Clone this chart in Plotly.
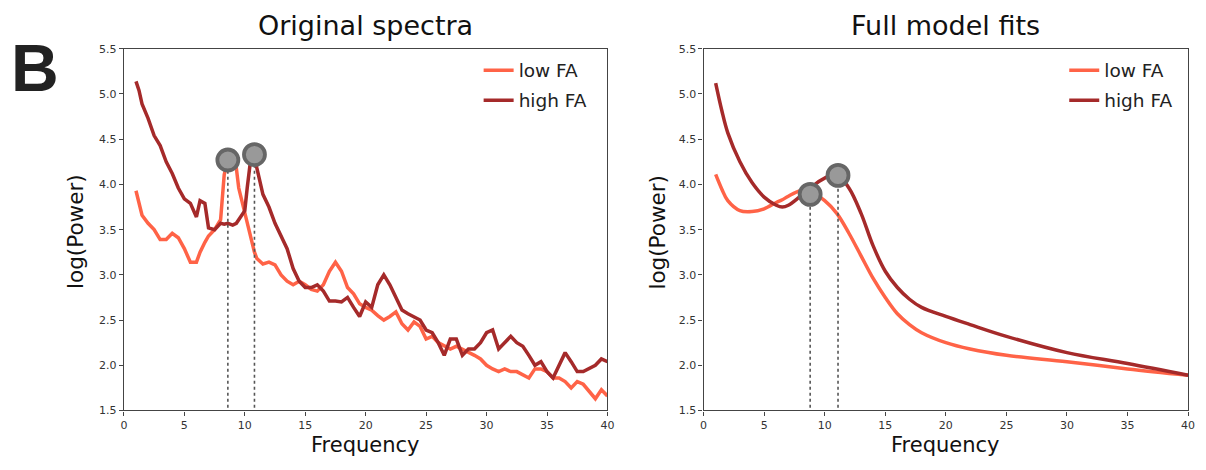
import plotly.graph_objects as go

# ---------------- data ----------------
freq_spec = [1, 1.25, 1.5, 2, 2.5, 3, 3.5, 4, 4.5, 5, 5.5, 6, 6.3, 6.7, 7, 7.5, 8, 8.3, 8.6,
             9, 9.3, 9.5, 10, 10.2, 10.5, 10.8, 11, 11.5, 12, 12.5, 13, 13.5, 14, 14.5, 15,
             15.5, 16, 16.5, 17, 17.5, 18, 18.5, 19, 19.5, 20, 20.5, 21, 21.5, 22, 22.5, 23,
             23.5, 24, 24.5, 25, 25.5, 26, 26.5, 27, 27.5, 28, 28.5, 29, 29.5, 30, 30.5, 31,
             31.5, 32, 32.5, 33, 33.5, 34, 34.5, 35, 35.5, 36, 36.5, 37, 37.5, 38, 38.5, 39,
             39.5, 40]

high_spec = [5.14, 5.04, 4.89, 4.73, 4.54, 4.43, 4.25, 4.12, 3.96, 3.84, 3.79, 3.64, 3.82, 3.79,
             3.52, 3.50, 3.57, 3.56, 3.57, 3.55, 3.57, 3.61, 3.71, 3.96, 4.29, 4.34, 4.18, 3.89,
             3.75, 3.57, 3.43, 3.29, 3.07, 2.93, 2.86, 2.86, 2.89, 2.82, 2.71, 2.71, 2.70, 2.75,
             2.64, 2.54, 2.70, 2.64, 2.89, 3.00, 2.89, 2.75, 2.61, 2.57, 2.54, 2.50, 2.39, 2.36,
             2.25, 2.11, 2.29, 2.29, 2.11, 2.18, 2.18, 2.25, 2.36, 2.39, 2.18, 2.25, 2.32, 2.25,
             2.21, 2.11, 2.00, 2.04, 1.93, 1.86, 2.00, 2.14, 2.04, 1.93, 1.93, 1.96, 2.00, 2.07,
             2.04]

low_spec = [3.93, 3.79, 3.66, 3.57, 3.50, 3.39, 3.39, 3.46, 3.41, 3.29, 3.14, 3.14, 3.25, 3.36,
            3.43, 3.50, 3.61, 4.11, 4.26, 4.20, 4.18, 3.96, 3.68, 3.58, 3.39, 3.25, 3.18, 3.12,
            3.14, 3.11, 3.00, 2.93, 2.89, 2.93, 2.89, 2.84, 2.82, 2.89, 3.04, 3.14, 3.04, 2.86,
            2.79, 2.68, 2.64, 2.61, 2.55, 2.50, 2.54, 2.59, 2.46, 2.39, 2.48, 2.43, 2.29, 2.32,
            2.25, 2.21, 2.18, 2.21, 2.18, 2.14, 2.11, 2.07, 2.00, 1.96, 1.93, 1.96, 1.93, 1.93,
            1.89, 1.86, 1.96, 1.96, 1.93, 1.86, 1.86, 1.82, 1.75, 1.82, 1.79, 1.71, 1.63, 1.73,
            1.66]

freq_fit = [1, 1.5, 2, 3, 4, 5, 6, 6.5, 7, 8, 8.8, 9, 10, 11, 12, 13, 14, 15, 16, 17, 18, 20,
            22, 25, 30, 35, 40]
high_fit = [5.12, 4.82, 4.57, 4.25, 4.02, 3.86, 3.77, 3.75, 3.77, 3.87, 3.95, 3.98, 4.07, 4.11,
            3.96, 3.68, 3.32, 3.04, 2.86, 2.73, 2.64, 2.54, 2.45, 2.32, 2.14, 2.02, 1.89]
low_fit = [4.11, 3.95, 3.82, 3.71, 3.70, 3.73, 3.80, 3.83, 3.87, 3.93, 3.92, 3.91, 3.82, 3.68,
           3.46, 3.21, 2.96, 2.75, 2.57, 2.45, 2.36, 2.25, 2.18, 2.11, 2.04, 1.96, 1.89]

peak_spec_freq = [8.6, 10.8]
peak_spec_pow = [4.27, 4.33]
peak_fit_freq = [8.8, 11.1]
peak_fit_pow = [3.89, 4.10]

series_names = ["low FA", "high FA"]
panel_titles = ["Original spectra", "Full model fits"]
x_ticks = [0, 5, 10, 15, 20, 25, 30, 35, 40]
y_ticks = [1.5, 2.0, 2.5, 3.0, 3.5, 4.0, 4.5, 5.0, 5.5]

LOW_C = "#FF6347"
HIGH_C = "#A52A2A"
FONT = "DejaVu Sans"

fig = go.Figure()

def add_panel(xa, ya, legend, f, low, high, pk_f, pk_p, shape):
    fig.add_trace(go.Scatter(x=f, y=low, mode="lines", name=series_names[0],
                             line=dict(color=LOW_C, width=3.5, shape=shape),
                             xaxis=xa, yaxis=ya, legend=legend, legendgroup=legend + "a"))
    fig.add_trace(go.Scatter(x=f, y=high, mode="lines", name=series_names[1],
                             line=dict(color=HIGH_C, width=3.5, shape=shape),
                             xaxis=xa, yaxis=ya, legend=legend, legendgroup=legend + "b"))
    for pf, pp in zip(pk_f, pk_p):
        fig.add_trace(go.Scatter(x=[pf, pf], y=[1.53, pp], mode="lines",
                                 line=dict(color="#555555", width=1.6, dash="dot"),
                                 xaxis=xa, yaxis=ya, showlegend=False))
    fig.add_trace(go.Scatter(x=pk_f, y=pk_p, mode="markers",
                             marker=dict(size=21, color="#999999",
                                         line=dict(color="#666666", width=3.8)),
                             xaxis=xa, yaxis=ya, showlegend=False))

add_panel("x", "y", "legend", freq_spec, low_spec, high_spec,
          peak_spec_freq, peak_spec_pow, "linear")
add_panel("x2", "y2", "legend2", freq_fit, low_fit, high_fit,
          peak_fit_freq, peak_fit_pow, "spline")

axis_common = dict(showline=True, linecolor="#444444", linewidth=1.2, mirror=True,
                   ticks="outside", ticklen=4, tickcolor="#444444", tickwidth=1,
                   showgrid=False, zeroline=False,
                   tickfont=dict(family=FONT, size=11, color="#333333"))

ydom = [1 - 416 / 470, 1 - 44 / 470]
legend_font = dict(family=FONT, size=18.5, color="#222222")
fig.update_layout(
    width=1206, height=470,
    margin=dict(l=0, r=0, t=0, b=0),
    paper_bgcolor="white", plot_bgcolor="white",
    font=dict(family=FONT, color="#111111"),
    xaxis=dict(domain=[121 / 1206, 609 / 1206], range=[0, 40], tickvals=x_ticks,
               anchor="y", **axis_common),
    yaxis=dict(domain=ydom, range=[1.5, 5.5], tickvals=y_ticks, tickformat=".1f",
               anchor="x", **axis_common),
    xaxis2=dict(domain=[706 / 1206, 1195 / 1206], range=[0, 40], tickvals=x_ticks,
                anchor="y2", **axis_common),
    yaxis2=dict(domain=ydom, range=[1.5, 5.5], tickvals=y_ticks, tickformat=".1f",
                anchor="x2", **axis_common),
    legend=dict(x=479 / 1206, y=1 - 47 / 470, xanchor="left", yanchor="top",
                bgcolor="rgba(0,0,0,0)", font=legend_font, tracegroupgap=3),
    legend2=dict(x=1070 / 1206, y=1 - 47 / 470, xanchor="left", yanchor="top",
                 bgcolor="rgba(0,0,0,0)", font=legend_font, tracegroupgap=3),
    showlegend=True,
)

for xc, t in zip([365, 950], panel_titles):
    fig.add_annotation(text=t, x=xc / 1206, y=1 - 20 / 470, xref="paper",
                       yref="paper", showarrow=False, xanchor="center", yanchor="middle",
                       font=dict(family=FONT, size=27, color="#111111"))
for xc in [365, 950]:
    fig.add_annotation(text="Frequency", x=xc / 1206, y=1 - 451 / 470, xref="paper",
                       yref="paper", showarrow=False, xanchor="center", yanchor="middle",
                       font=dict(family=FONT, size=21, color="#111111"))
for xc in [72, 660]:
    fig.add_annotation(text="log(Power)", x=xc / 1206, y=1 - 232 / 470, xref="paper",
                       yref="paper", showarrow=False, xanchor="center", yanchor="middle",
                       textangle=-90, font=dict(family=FONT, size=21.5, color="#111111"))
fig.add_annotation(text="<b>B</b>", x=31 / 1206, y=1 - 64 / 470, xref="paper", yref="paper",
                   showarrow=False, xanchor="center", yanchor="middle",
                   font=dict(family="Liberation Sans", size=66, color="#222222"))

fig.write_html("out.html")
